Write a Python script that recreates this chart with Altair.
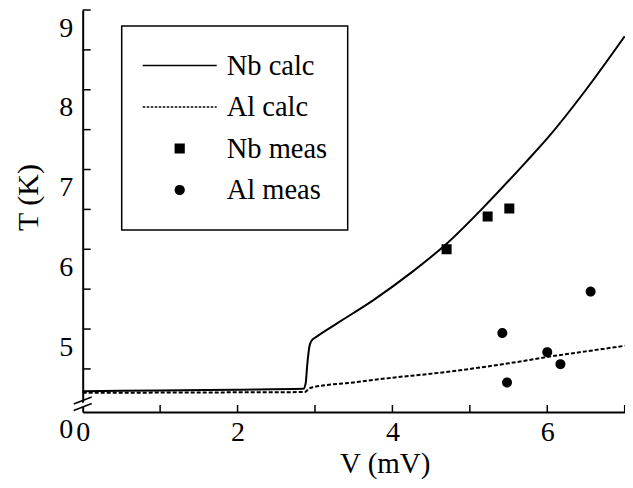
import altair as alt
import pandas as pd

# ---- data ----
nb_calc_v = [0.0, 1.0, 2.0, 2.85, 2.88, 2.90, 2.93, 2.96, 3.0, 3.3, 3.75, 4.26, 4.70, 5.23, 5.73, 6.0, 6.5, 7.0]
nb_calc_t = [4.22, 4.23, 4.24, 4.25, 4.32, 4.55, 4.79, 4.86, 4.89, 5.08, 5.36, 5.72, 6.07, 6.58, 7.10, 7.39, 8.00, 8.67]

al_calc_v = [0.0, 1.5, 2.87, 2.92, 2.97, 3.5, 4.0, 4.5, 5.0, 5.5, 6.0, 6.5, 7.0]
al_calc_t = [4.20, 4.205, 4.21, 4.25, 4.27, 4.33, 4.39, 4.44, 4.50, 4.57, 4.65, 4.72, 4.79]

nb_meas_v = [4.70, 5.23, 5.51]
nb_meas_t = [6.00, 6.41, 6.51]

al_meas_v = [5.42, 5.48, 6.00, 6.17, 6.56]
al_meas_t = [4.95, 4.33, 4.71, 4.56, 5.47]

series_names = ["Nb calc", "Al calc", "Nb meas", "Al meas"]

x_tick_values = [1, 2, 3, 4, 5, 6, 7]
x_label_values = [0, 2, 4, 6]
y_tick_values = [4.5, 5, 5.5, 6, 6.5, 7, 7.5, 8, 8.5, 9]
y_label_values = [3.96, 5, 6, 7, 8, 9]   # bottom value shown as "0" (broken axis)

# ---- tables ----
nb_df = pd.DataFrame({"V": nb_calc_v, "T": nb_calc_t, "series": "Nb calc"})
al_df = pd.DataFrame({"V": al_calc_v, "T": al_calc_t, "series": "Al calc"})
meas_df = pd.concat([
    pd.DataFrame({"V": nb_meas_v, "T": nb_meas_t, "series": "Nb meas"}),
    pd.DataFrame({"V": al_meas_v, "T": al_meas_t, "series": "Al meas"}),
], ignore_index=True)
xt_df = pd.DataFrame({"V": x_tick_values})
yt_df = pd.DataFrame({"T": y_tick_values})
one_df = pd.DataFrame({"k": [0]})

FONT = "Liberation Serif"

x_axis = alt.Axis(
    values=x_label_values, format="d", ticks=False, grid=False,
    domainColor="black", domainWidth=2, labelFont=FONT, labelFontSize=28,
    labelColor="black", labelPadding=7, labelFlush=False, labelOverlap=False,
    title="V (mV)", titleFont=FONT, titleFontSize=29, titleFontWeight="normal",
    titleColor="black", titleX=302, titleY=61, titleAlign="center",
    titleBaseline="alphabetic", zindex=0,
)
y_axis = alt.Axis(
    values=y_label_values,
    labelExpr="datum.value < 4.5 ? '0' : format(datum.value, 'd')",
    ticks=False, grid=False, domainColor="black", domainWidth=2,
    labelFont=FONT, labelFontSize=28, labelColor="black", labelPadding=10,
    labelOffset=18, labelFlush=False, labelOverlap=False, labelBound=False,
    title="T (K)", titleFont=FONT, titleFontSize=30, titleFontWeight="normal",
    titleColor="black", titleAngle=270, titleX=-45, titleY=187,
    titleAlign="center", titleBaseline="alphabetic", zindex=0,
)

X = alt.X("V:Q", scale=alt.Scale(domain=[0, 7], nice=False, zero=False), axis=x_axis)
Y = alt.Y("T:Q", scale=alt.Scale(domain=[3.96, 9], nice=False, zero=False), axis=y_axis)

line_path = "M-1,0H1"
square_path = "M-0.115,-0.115H0.115V0.115H-0.115Z"
circle_path = "M-0.115,0A0.115,0.115,0,1,1,0.115,0A0.115,0.115,0,1,1,-0.115,0Z"

legend = alt.Legend(
    title=None, orient="none", legendX=39, legendY=16, direction="vertical",
    columns=1, padding=20, strokeColor="black", fillColor="white",
    labelFont=FONT, labelFontSize=28.5, labelColor="black", labelOffset=9,
    labelLimit=0, symbolSize=5476, symbolStrokeWidth=1.7, symbolOpacity=1,
    clipHeight=39, rowPadding=2.5,
)

nb_line = alt.Chart(nb_df).mark_line(color="black", strokeWidth=2, interpolate="monotone").encode(x=X, y=Y)
al_line = alt.Chart(al_df).mark_line(color="black", strokeWidth=2, strokeDash=[4, 2], interpolate="monotone").encode(x=X, y=Y)

points = alt.Chart(meas_df).mark_point(
    filled=True, size=5476, fill="black", stroke="black", strokeWidth=1.5, opacity=1
).encode(
    x=X, y=Y,
    shape=alt.Shape("series:N", scale=alt.Scale(domain=series_names,
                    range=[line_path, line_path, square_path, circle_path]), legend=legend),
    strokeDash=alt.StrokeDash("series:N", scale=alt.Scale(domain=series_names,
                    range=[[1, 0], [2.5, 1.5], [1, 0], [1, 0]]), legend=legend),
)

x_ticks = alt.Chart(xt_df).mark_rule(color="black", strokeWidth=1.5).encode(
    x=X, y=alt.value(402), y2=alt.value(395))
y_ticks = alt.Chart(yt_df).mark_rule(color="black", strokeWidth=1.5).encode(
    y=Y, x=alt.value(0), x2=alt.value(8))

brk_white = alt.Chart(one_df).mark_rule(color="white", strokeWidth=4).encode(
    x=alt.value(-6), x2=alt.value(6), y=alt.value(397.5), y2=alt.value(392.5))
brk1 = alt.Chart(one_df).mark_rule(color="black", strokeWidth=1.5).encode(
    x=alt.value(-9), x2=alt.value(9), y=alt.value(394), y2=alt.value(387))
brk2 = alt.Chart(one_df).mark_rule(color="black", strokeWidth=1.5).encode(
    x=alt.value(-9), x2=alt.value(9), y=alt.value(400.5), y2=alt.value(393.5))

chart = alt.layer(
    nb_line, al_line, x_ticks, y_ticks, brk_white, brk1, brk2, points
).properties(
    width=542, height=402,
    autosize=alt.AutoSizeParams(type="none"),
    padding={"left": 74.7, "top": 2, "right": 0, "bottom": 68},
    background="white",
).configure_view(stroke=None).configure_legend(strokeWidth=1.5)

chart.save("out.html", embed_options={"renderer": "svg", "actions": False})
